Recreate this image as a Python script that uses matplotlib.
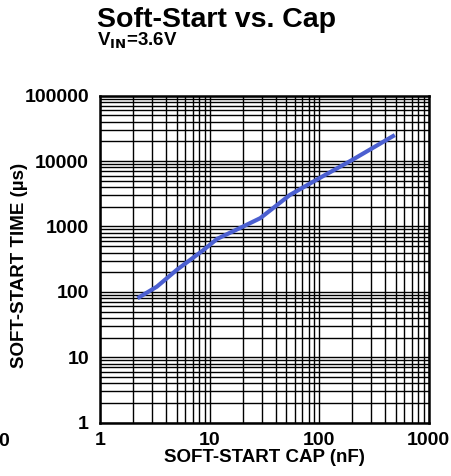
import matplotlib
matplotlib.use("Agg")
import matplotlib.pyplot as plt
from matplotlib.ticker import LogLocator, FixedLocator, NullFormatter

plt.rcParams['font.family'] = ['Liberation Sans', 'DejaVu Sans']

# soft-start cap (nF) vs soft-start time (us)
cap_nf = [2.2, 3.3, 5.0, 8.8, 11.7, 20, 29, 54, 100, 200, 490]
time_us = [80, 120, 216, 437, 645, 990, 1340, 3030, 5460, 10400, 25000]

x_ticks = [1, 10, 100, 1000]
x_labels = ["1", "10", "100", "1000"]
y_ticks = [1, 10, 100, 1000, 10000, 100000]
y_labels = ["1", "10", "100", "1000", "10000", "100000"]

fig = plt.figure(figsize=(4.51, 4.76), dpi=100)
ax = fig.add_axes([0.2217, 0.112, 0.729, 0.687])

ax.plot(cap_nf, time_us, color="#4b5fd0", lw=3, solid_capstyle="butt", zorder=3)

ax.set_xscale("log")
ax.set_yscale("log")
ax.set_xlim(1, 1000)
ax.set_ylim(1, 100000)

ax.xaxis.set_major_locator(FixedLocator(x_ticks))
ax.set_xticklabels(x_labels, fontweight="bold")
ax.yaxis.set_major_locator(FixedLocator(y_ticks))
ax.set_yticklabels(y_labels, fontweight="bold")
ax.xaxis.set_minor_locator(LogLocator(base=10, subs=range(2, 10), numticks=20))
ax.yaxis.set_minor_locator(LogLocator(base=10, subs=range(2, 10), numticks=20))
ax.xaxis.set_minor_formatter(NullFormatter())
ax.yaxis.set_minor_formatter(NullFormatter())

ax.grid(True, which="both", color="black", lw=1.0)
ax.tick_params(which="both", length=0)
ax.tick_params(axis="x", labelsize=14, pad=7)
ax.tick_params(axis="y", labelsize=14, pad=8)
for s in ax.spines.values():
    s.set_linewidth(1.8)
    s.set_zorder(4)

ax.set_xlabel("SOFT-START CAP (nF)", fontsize=13.5, fontweight="bold", labelpad=0)
ax.set_ylabel("SOFT-START TIME (µs)", fontsize=13.5, fontweight="bold")
ax.yaxis.set_label_coords(-0.219, 0.481)

fig.text(97 / 451, 1 - 27 / 476, "Soft-Start vs. Cap", fontsize=20.5, fontweight="bold",
         ha="left", va="baseline")
fig.text(97 / 451, 1 - 46 / 476, r"V$_{\mathbf{IN}}$=3.6V", fontsize=13.5, fontweight="bold",
         ha="left", va="baseline")
fig.text(9 / 451, 1 - 446 / 476, "0", fontsize=14, fontweight="bold", ha="right", va="baseline")

fig.savefig("out.png", dpi=100)
